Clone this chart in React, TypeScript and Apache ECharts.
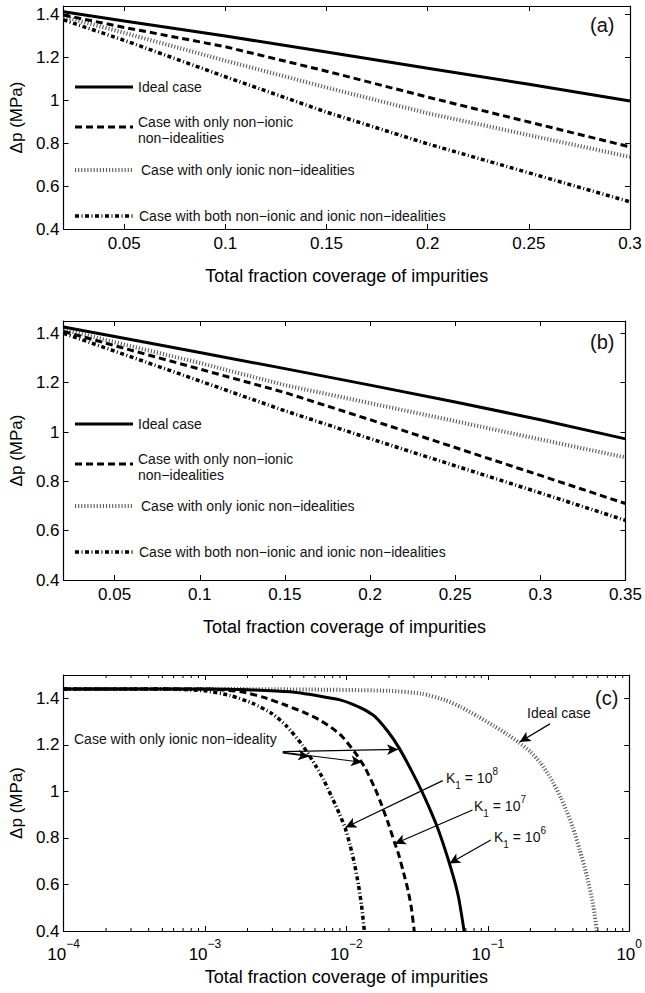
import React, { useEffect, useRef } from 'react';
import * as echarts from 'echarts';

const FONT = 'Liberation Sans, Arial, Helvetica, sans-serif';
const X_TITLE = 'Total fraction coverage of impurities';
const Y_TITLE = 'Δp (MPa)';

// Panel (a)
const A_X = [0.02, 0.05, 0.1, 0.15, 0.2, 0.25, 0.3];
const A_IDEAL = [1.413, 1.37, 1.3, 1.225, 1.15, 1.075, 0.997];
const A_NONIONIC = [1.398, 1.34, 1.25, 1.136, 1.015, 0.899, 0.783];
const A_IONIC = [1.39, 1.315, 1.185, 1.06, 0.94, 0.838, 0.736];
const A_BOTH = [1.375, 1.28, 1.11, 0.945, 0.797, 0.662, 0.527];

// Panel (b)
const B_X = [0.02, 0.05, 0.1, 0.15, 0.2, 0.25, 0.3, 0.35];
const B_IDEAL = [1.426, 1.387, 1.322, 1.257, 1.19, 1.122, 1.05, 0.972];
const B_NONIONIC = [1.408, 1.35, 1.255, 1.16, 1.05, 0.937, 0.824, 0.71];
const B_IONIC = [1.415, 1.364, 1.28, 1.19, 1.117, 1.044, 0.97, 0.897];
const B_BOTH = [1.4, 1.328, 1.207, 1.086, 0.973, 0.863, 0.753, 0.642];

// Panel (c)
const C_IDEAL_X = [1e-4, 1e-3, 0.0068, 0.02, 0.034, 0.05, 0.0646, 0.085, 0.11, 0.135, 0.166, 0.2, 0.234, 0.27, 0.291, 0.33, 0.361, 0.4, 0.447, 0.5, 0.555, 0.59];
const C_IDEAL_Y = [1.44, 1.44, 1.437, 1.432, 1.42, 1.392, 1.362, 1.322, 1.282, 1.248, 1.21, 1.17, 1.125, 1.07, 1.035, 0.97, 0.915, 0.845, 0.748, 0.64, 0.515, 0.4];
const C_K6_X = [1e-4, 1e-3, 0.002, 0.004, 0.0064, 0.009, 0.011, 0.0135, 0.016, 0.0198, 0.0234, 0.0288, 0.0357, 0.0444, 0.055, 0.062, 0.068];
const C_K6_Y = [1.44, 1.44, 1.437, 1.428, 1.41, 1.393, 1.375, 1.35, 1.32, 1.255, 1.19, 1.09, 0.975, 0.839, 0.667, 0.547, 0.4];
const C_K7_X = [1e-4, 1e-3, 0.0018, 0.00257, 0.00374, 0.0052, 0.0064, 0.0078, 0.00933, 0.01156, 0.0136, 0.016, 0.0178, 0.0198, 0.022, 0.0234, 0.0259, 0.0274, 0.0288, 0.0302];
const C_K7_Y = [1.44, 1.44, 1.428, 1.405, 1.37, 1.335, 1.308, 1.275, 1.236, 1.165, 1.1, 1.01, 0.94, 0.862, 0.777, 0.73, 0.63, 0.57, 0.5, 0.4];
const C_K8_X = [1e-4, 5e-4, 1e-3, 0.0015, 0.0022, 0.003, 0.00374, 0.0049, 0.00607, 0.0069, 0.0079, 0.0089, 0.00984, 0.0106, 0.0114, 0.0122, 0.0128, 0.0134];
const C_K8_Y = [1.44, 1.44, 1.432, 1.412, 1.377, 1.333, 1.283, 1.198, 1.11, 1.05, 0.975, 0.905, 0.84, 0.77, 0.69, 0.595, 0.51, 0.4];
const C_MINOR_TICKS = [
  2e-4, 3e-4, 4e-4, 5e-4, 6e-4, 7e-4, 8e-4, 9e-4,
  2e-3, 3e-3, 4e-3, 5e-3, 6e-3, 7e-3, 8e-3, 9e-3,
  2e-2, 3e-2, 4e-2, 5e-2, 6e-2, 7e-2, 8e-2, 9e-2,
  2e-1, 3e-1, 4e-1, 5e-1, 6e-1, 7e-1, 8e-1, 9e-1,
];
// arrows: [fromX, fromY, toX, toY] in data units
const C_ARROWS = [
  [0.00355, 1.171, 0.0232, 1.18],
  [0.00355, 1.168, 0.0129, 1.125],
  [0.00355, 1.165, 0.00546, 1.15],
  [0.275, 1.29, 0.168, 1.212],
  [0.048, 1.046, 0.00984, 0.845],
  [0.078, 0.92, 0.022, 0.775],
  [0.105, 0.791, 0.0535, 0.69],
];

const AXIS_LINE = { show: true, onZero: false, lineStyle: { color: '#000', width: 1.2 } };
const TICK = { show: true, inside: true, length: 5, lineStyle: { color: '#000', width: 1 } };
const LABEL = { color: '#000', fontSize: 17, fontFamily: FONT };
const NAME_X = { color: '#000', fontSize: 18, fontFamily: FONT };
const NAME_Y = { color: '#000', fontSize: 17, fontFamily: FONT };

const ST_SOLID = { color: '#000', width: 3, type: 'solid' };
const ST_DASH = { color: '#000', width: 3, type: [7, 4] };
const ST_DOT = { color: '#5a5a5a', width: 4, type: [1.1, 2] };
const ST_DASHDOT = { color: '#000', width: 3.5, type: [4, 2.5, 1, 2.5] };

function zip(xs: number[], ys: number[]) {
  return xs.map((x, i) => [x, ys[i]]);
}

function lineSeries(idx: number, data: number[][], style: any, extra: any = {}) {
  return {
    type: 'line',
    xAxisIndex: idx,
    yAxisIndex: idx,
    data,
    showSymbol: false,
    symbol: 'none',
    silent: true,
    lineStyle: style,
    ...extra,
  };
}

function valueX(grid: number, min: number, max: number, bottom: boolean) {
  return {
    type: 'value',
    gridIndex: grid,
    min,
    max,
    position: bottom ? 'bottom' : 'top',
    axisLine: AXIS_LINE,
    axisTick: TICK,
    splitLine: { show: false },
    axisLabel: bottom ? { ...LABEL, margin: 6, showMinLabel: false } : { show: false },
    name: bottom ? X_TITLE : '',
    nameLocation: 'middle',
    nameGap: 38,
    nameTextStyle: NAME_X,
  };
}

function valueY(grid: number, min: number, max: number, left: boolean) {
  return {
    type: 'value',
    gridIndex: grid,
    min,
    max,
    interval: 0.2,
    position: left ? 'left' : 'right',
    axisLine: AXIS_LINE,
    axisTick: TICK,
    splitLine: { show: false },
    axisLabel: left ? { ...LABEL, margin: 4, showMaxLabel: false } : { show: false },
    name: left ? Y_TITLE : '',
    nameLocation: 'middle',
    nameGap: 34,
    nameTextStyle: NAME_Y,
  };
}

function logX(grid: number, bottom: boolean) {
  return {
    type: 'log',
    logBase: 10,
    gridIndex: grid,
    min: 1e-4,
    max: 1,
    position: bottom ? 'bottom' : 'top',
    axisLine: AXIS_LINE,
    axisTick: TICK,
    splitLine: { show: false },
    axisLabel: bottom
      ? {
          margin: 7,
          formatter: (v: number) => {
            const e = Math.round(Math.log10(v));
            const s = e < 0 ? '−' + Math.abs(e) : String(e);
            return '{b|10}{s|' + s + '}';
          },
          rich: {
            b: { fontSize: 17, fontFamily: FONT, color: '#000', lineHeight: 25, verticalAlign: 'bottom' },
            s: { fontSize: 12, fontFamily: FONT, color: '#000', lineHeight: 12, verticalAlign: 'top' },
          },
        }
      : { show: false },
    name: bottom ? X_TITLE : '',
    nameLocation: 'middle',
    nameGap: 37,
    nameTextStyle: NAME_X,
  };
}

function txt(x: number, y: number, text: string, size = 14, extra: any = {}) {
  return {
    type: 'text',
    x,
    y,
    silent: true,
    style: {
      text,
      fontSize: size,
      fontFamily: FONT,
      fill: '#111',
      align: 'left',
      verticalAlign: 'middle',
      lineHeight: 16.5,
      ...extra,
    },
  };
}

function seg(x1: number, x2: number, y: number, st: any) {
  return {
    type: 'line',
    silent: true,
    shape: { x1, y1: y, x2, y2: y },
    style: { stroke: st.color, lineWidth: st.width, lineDash: st.type === 'solid' ? null : st.type },
  };
}

function legend(yIdeal: number, yDash: number, yDot: number, yBoth: number) {
  return [
    seg(75, 133, yIdeal, ST_SOLID),
    txt(138, yIdeal, 'Ideal case'),
    seg(75, 133, yDash, ST_DASH),
    txt(138, yDash + 3, 'Case with only non−ionic\nnon−idealities'),
    seg(75, 133, yDot, ST_DOT),
    txt(141, yDot, 'Case with only ionic non−idealities'),
    seg(75, 133, yBoth, ST_DASHDOT),
    txt(139, yBoth, 'Case with both non−ionic and ionic non−idealities'),
  ];
}

function kLabel(x: number, y: number, p: string) {
  return {
    type: 'text',
    x,
    y,
    silent: true,
    style: {
      text: '{n|K}{sub|1}{n| = 10}{sup|' + p + '}',
      verticalAlign: 'middle',
      align: 'left',
      rich: {
        n: { fontSize: 14, fontFamily: FONT, fill: '#111', lineHeight: 24, verticalAlign: 'middle' },
        sub: { fontSize: 10, fontFamily: FONT, fill: '#111', lineHeight: 11, verticalAlign: 'bottom' },
        sup: { fontSize: 10, fontFamily: FONT, fill: '#111', lineHeight: 11, verticalAlign: 'top' },
      },
    },
  };
}

function buildOption() {
  const cYMin = 0.4;
  const cYMax = 1.5;
  const smoothC = { smooth: 0.2 };
  return {
    animation: false,
    backgroundColor: '#fff',
    textStyle: { fontFamily: FONT },
    grid: [
      { left: 59, top: 6, width: 571, height: 223 },
      { left: 58, top: 321, width: 572, height: 259 },
      { left: 59, top: 675, width: 571, height: 256 },
    ],
    xAxis: [
      valueX(0, 0.02, 0.3, true),
      valueX(0, 0.02, 0.3, false),
      valueX(1, 0.02, 0.35, true),
      valueX(1, 0.02, 0.35, false),
      logX(2, true),
      logX(2, false),
    ],
    yAxis: [
      valueY(0, 0.4, 1.44, true),
      valueY(0, 0.4, 1.44, false),
      valueY(1, 0.4, 1.45, true),
      valueY(1, 0.4, 1.45, false),
      valueY(2, cYMin, cYMax, true),
      valueY(2, cYMin, cYMax, false),
    ],
    series: [
      lineSeries(0, zip(A_X, A_IONIC), ST_DOT),
      lineSeries(0, zip(A_X, A_BOTH), ST_DASHDOT),
      lineSeries(0, zip(A_X, A_NONIONIC), ST_DASH),
      lineSeries(0, zip(A_X, A_IDEAL), ST_SOLID),
      lineSeries(2, zip(B_X, B_IONIC), ST_DOT),
      lineSeries(2, zip(B_X, B_BOTH), ST_DASHDOT),
      lineSeries(2, zip(B_X, B_NONIONIC), ST_DASH),
      lineSeries(2, zip(B_X, B_IDEAL), ST_SOLID),
      lineSeries(4, zip(C_IDEAL_X, C_IDEAL_Y), ST_DOT, smoothC),
      lineSeries(4, zip(C_K8_X, C_K8_Y), ST_DASHDOT, smoothC),
      lineSeries(4, zip(C_K7_X, C_K7_Y), ST_DASH, smoothC),
      lineSeries(4, zip(C_K6_X, C_K6_Y), ST_SOLID, {
        ...smoothC,
        markLine: {
          silent: true,
          animation: false,
          symbol: ['none', 'arrow'],
          symbolSize: [8, 11],
          label: { show: false },
          lineStyle: { color: '#000', width: 1.2, type: 'solid' },
          emphasis: { disabled: true },
          data: C_ARROWS.map((a) => [{ coord: [a[0], a[1]] }, { coord: [a[2], a[3]] }]),
        },
      }),
      {
        type: 'custom',
        xAxisIndex: 4,
        yAxisIndex: 4,
        silent: true,
        clip: false,
        data: C_MINOR_TICKS.map((v) => [v, cYMin]),
        encode: { x: 0, y: 1 },
        renderItem: (params: any, api: any) => {
          const v = api.value(0);
          const b = api.coord([v, cYMin]);
          const t = api.coord([v, cYMax]);
          return {
            type: 'group',
            children: [
              { type: 'line', shape: { x1: b[0], y1: b[1], x2: b[0], y2: b[1] - 3 }, style: { stroke: '#000', lineWidth: 1 } },
              { type: 'line', shape: { x1: t[0], y1: t[1], x2: t[0], y2: t[1] + 3 }, style: { stroke: '#000', lineWidth: 1 } },
            ],
          };
        },
      },
    ],
    graphic: [
      ...legend(87, 127, 170, 216),
      ...legend(424, 464, 506, 552),
      txt(590, 25, '(a)', 20),
      txt(590, 342, '(b)', 20),
      txt(595, 698, '(c)', 20),
      txt(74, 739, 'Case with only ionic non−ideality'),
      txt(527, 713, 'Ideal case'),
      kLabel(446, 778, '8'),
      kLabel(474, 806, '7'),
      kLabel(494, 837, '6'),
    ],
  };
}

export default function App() {
  const ref = useRef<HTMLDivElement>(null);
  useEffect(() => {
    const chart = echarts.init(ref.current!, null, { renderer: 'svg' });
    chart.setOption(buildOption() as any);
    return () => chart.dispose();
  }, []);
  return (
    <div
      ref={ref}
      style={{ position: 'fixed', left: 0, top: 0, width: 645, height: 993, background: '#fff' }}
    />
  );
}
